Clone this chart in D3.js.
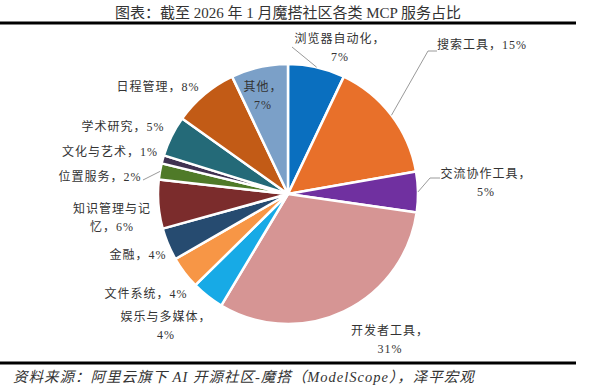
<!DOCTYPE html>
<html>
<meta charset="utf-8">
<head>
<style>
    body { margin: 0; background: #fff; }
    text { font-family: "Liberation Serif", "Noto Sans CJK SC", serif; fill: #333; }
</style>
</head>
<body>
<div id="chart"></div>
<script src="https://cdn.jsdelivr.net/npm/d3@7"></script>
<script>
    // data, clockwise from 12 o'clock
    const categories = ["浏览器自动化", "搜索工具", "交流协作工具", "开发者工具", "娱乐与多媒体",
        "文件系统", "金融", "知识管理与记忆", "位置服务", "文化与艺术", "学术研究", "日程管理", "其他"];
    const shares = [7, 15, 5, 31, 4, 4, 4, 6, 2, 1, 5, 8, 7];
    const colors = ["#0a6fbf", "#e8702a", "#7030a0", "#d69594", "#17aae6", "#f79646", "#264b70",
        "#7b2c2c", "#4f7a28", "#3f3151", "#246a78", "#c25b16", "#7ba0c8"];

    // label placement: x/y of first line, chars on first line (0 = one line), leader line
    const labelLayout = {
        "浏览器自动化": { x: 340, y: 43, brk: 7, leader: [[292, 47]] },
        "搜索工具": { x: 482, y: 49, brk: 0, leader: [[437, 51], [428, 51]] },
        "交流协作工具": { x: 486, y: 178, brk: 7, leader: [[440, 178], [430, 178]] },
        "开发者工具": { x: 390, y: 335, brk: 6 },
        "娱乐与多媒体": { x: 166, y: 321, brk: 7 },
        "文件系统": { x: 146, y: 298, brk: 0 },
        "金融": { x: 138, y: 259, brk: 0 },
        "知识管理与记忆": { x: 112, y: 213, brk: 6 },
        "位置服务": { x: 100, y: 181, brk: 0, leader: [[143, 180]] },
        "文化与艺术": { x: 110, y: 156, brk: 0 },
        "学术研究": { x: 123, y: 131, brk: 0 },
        "日程管理": { x: 158, y: 91, brk: 0 },
        "其他": { x: 263, y: 91, brk: 3 }
    };

    const W = 600, H = 388;
    const cx = 288, cy = 194, radius = 130;

    const svg = d3.select("#chart").append("svg")
        .attr("width", W)
        .attr("height", H);

    // title + rules
    svg.append("text")
        .attr("x", 288).attr("y", 18)
        .attr("text-anchor", "middle")
        .style("font-size", "15px")
        .text("图表：截至 2026 年 1 月魔搭社区各类 MCP 服务占比");

    svg.append("line").attr("x1", 0).attr("x2", 576).attr("y1", 23).attr("y2", 23)
        .attr("stroke", "#000").attr("stroke-width", 3);
    svg.append("line").attr("x1", 0).attr("x2", 576).attr("y1", 363).attr("y2", 363)
        .attr("stroke", "#000").attr("stroke-width", 3);

    svg.append("text")
        .attr("x", 13).attr("y", 382)
        .style("font-size", "14.5px")
        .style("font-style", "italic")
        .style("letter-spacing", "1px")
        .text("资料来源：阿里云旗下 AI 开源社区-魔搭（ModelScope），泽平宏观");

    const data = categories.map((c, i) => ({ name: c, value: shares[i], color: colors[i] }));

    const pie = d3.pie().sort(null).value(d => d.value);
    const arcs = pie(data);

    const arc = d3.arc().innerRadius(0).outerRadius(radius);

    const g = svg.append("g").attr("transform", `translate(${cx},${cy})`);

    g.selectAll("path.slice")
        .data(arcs)
        .join("path")
        .attr("class", "slice")
        .attr("d", arc)
        .attr("fill", d => d.data.color)
        .attr("stroke", "#fff")
        .attr("stroke-width", 2.5)
        .attr("stroke-linejoin", "round");

    // leader lines: from label to slice edge at mid angle
    arcs.forEach(d => {
        const lay = labelLayout[d.data.name];
        if (!lay.leader) return;
        const mid = (d.startAngle + d.endAngle) / 2;
        const p = [cx + radius * Math.sin(mid), cy - radius * Math.cos(mid)];
        const pts = lay.leader.concat([p]);
        svg.append("path")
            .attr("d", d3.line()(pts))
            .attr("fill", "none")
            .attr("stroke", "#9a9a9a")
            .attr("stroke-width", 1);
    });

    // labels
    arcs.forEach(d => {
        const lay = labelLayout[d.data.name];
        const full = d.data.name + "，" + d.data.value + "%";
        const lines = lay.brk ? [full.slice(0, lay.brk), full.slice(lay.brk)] : [full];
        const t = svg.append("text")
            .attr("text-anchor", "middle")
            .style("font-size", "12px")
            .style("letter-spacing", "1px");
        lines.forEach((l, i) => {
            t.append("tspan")
                .attr("x", lay.x)
                .attr("y", lay.y + i * 17.5)
                .text(l);
        });
    });
</script>
</body>
</html>
